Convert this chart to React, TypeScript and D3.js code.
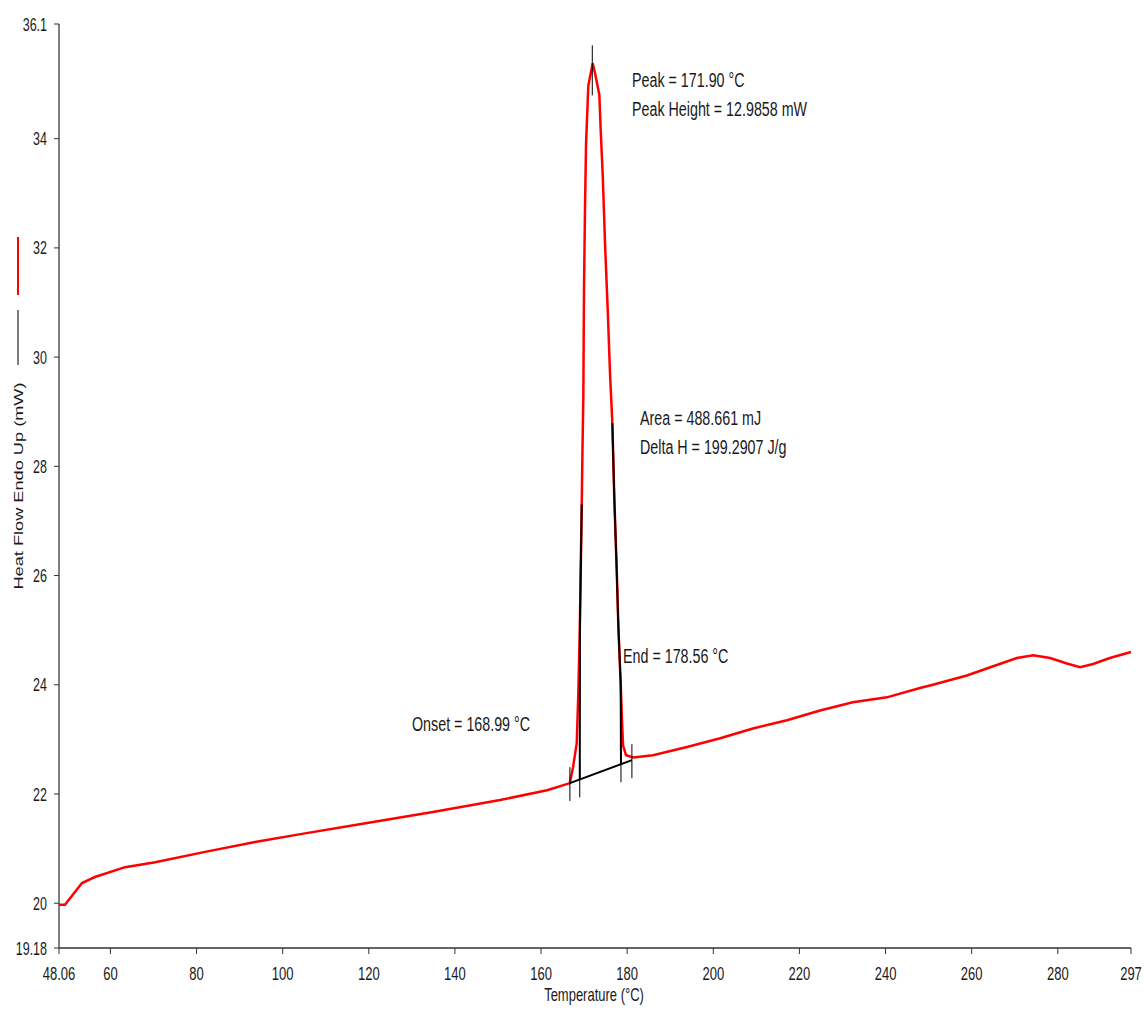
import React from 'react';
import * as d3 from 'd3';

// DSC scan, heat flow vs temperature
const temps = [48.06, 49.45, 53.4, 56.4, 63.4, 70.4, 82, 93.6, 104.5, 119.6, 134.9, 150.5, 161.4, 166.7, 167.43, 168.29, 168.66, 169.05, 169.45, 169.59, 169.82, 169.98, 170.21, 170.45, 170.98, 172.0, 172.54, 173.54, 173.86, 174.33, 174.86, 175.49, 176.02, 176.56, 177.02, 177.58, 177.95, 178.5, 178.8, 179.04, 179.73, 181.4, 186, 193.9, 201.6, 209.2, 217.1, 224.8, 232.4, 240.3, 248, 251, 258.9, 265, 270.5, 274.3, 278.2, 282.1, 285.2, 288.2, 292.1, 297];
const heatFlow = [19.97, 19.97, 20.37, 20.48, 20.66, 20.75, 20.94, 21.12, 21.27, 21.47, 21.67, 21.89, 22.07, 22.2, 22.49, 22.93, 23.85, 25.24, 27.3, 28.13, 29.28, 31.26, 32.74, 33.9, 34.97, 35.38, 35.2, 34.8, 34.14, 33.32, 32.08, 30.85, 29.7, 28.79, 27.4, 26.08, 25.08, 24.01, 23.35, 22.89, 22.71, 22.67, 22.71, 22.86, 23.02, 23.2, 23.35, 23.53, 23.68, 23.77, 23.94, 24.0, 24.17, 24.34, 24.49, 24.54, 24.49, 24.39, 24.32, 24.38, 24.49, 24.6];

const xTicks = [48.06, 60, 80, 100, 120, 140, 160, 180, 200, 220, 240, 260, 280, 297];
const yTicks = [19.18, 20, 22, 24, 26, 28, 30, 32, 34, 36.1];

// peak integration annotation
const baseStart: [number, number] = [166.7, 22.2];
const baseEnd: [number, number] = [181.1, 22.62];
const markerTemps = [166.7, 168.99, 178.56, 181.1];
const peakTemp = 171.9;
const peakValue = 35.38;
const leftEdge: [number, number][] = [[168.99, 22.27], [169.05, 25.24], [169.45, 27.3]];
const rightEdge: [number, number][] = [[176.56, 28.79], [177.02, 27.4], [177.58, 26.08], [177.95, 25.08], [178.5, 24.01], [178.56, 22.55]];

const width = 1144;
const height = 1010;
const font = 'Arial, "Liberation Sans", sans-serif';
const stretch = 1.4; // the original screenshot is squashed horizontally

// text drawn taller than wide, like the source image
const Tall = ({ x, y, size = 13, anchor = 'start', children }: any) => (
  <text
    transform={`translate(${x},${y}) scale(1,${stretch})`}
    textAnchor={anchor}
    fontSize={size}
    fill="#1a1a1a"
  >
    {children}
  </text>
);

const App = () => {
  const x = d3.scaleLinear().domain([48.06, 297]).range([59, 1131]);
  const y = d3.scaleLinear().domain([19.18, 36.1]).range([948, 24]);

  const line = d3.line<[number, number]>()
    .x((d) => x(d[0]))
    .y((d) => y(d[1]));

  const curve: [number, number][] = temps.map((t, i) => [t, heatFlow[i]]);
  const baseAt = (t: number) =>
    baseStart[1] + ((t - baseStart[0]) / (baseEnd[0] - baseStart[0])) * (baseEnd[1] - baseStart[1]);

  return (
    <svg width={width} height={height} style={{ position: 'absolute', left: 0, top: 0, background: '#fff' }} fontFamily={font}>
      {/* legend strokes */}
      <line x1={18} x2={18} y1={237} y2={295} stroke="#ff0000" strokeWidth={2} />
      <line x1={18} x2={18} y1={310} y2={365} stroke="#222" strokeWidth={1.2} />
      <text transform={`translate(23,486) scale(1,${stretch}) rotate(-90)`} textAnchor="middle" fontSize={13} fill="#1a1a1a">
        Heat Flow Endo Up (mW)
      </text>

      {/* axes */}
      <line x1={59} x2={59} y1={y(36.1)} y2={948} stroke="#555" strokeWidth={1.5} />
      <line x1={59} x2={1131} y1={948} y2={948} stroke="#333" strokeWidth={1.5} />
      {yTicks.map((v) => (
        <g key={v}>
          <line x1={54} x2={59} y1={y(v)} y2={y(v)} stroke="#333" />
          <Tall x={47} y={y(v) + 6.5} size={12.5} anchor="end">{v}</Tall>
        </g>
      ))}
      {xTicks.map((t) => (
        <g key={t}>
          <line x1={x(t)} x2={x(t)} y1={948} y2={954} stroke="#333" />
          <Tall x={x(t)} y={980} size={13} anchor="middle">{t}</Tall>
        </g>
      ))}
      <Tall x={594} y={1001} size={13} anchor="middle">Temperature (°C)</Tall>

      {/* data */}
      <path d={line(curve) ?? ''} fill="none" stroke="#ff0000" strokeWidth={2.5} />

      {/* integration marks */}
      <path d={line([baseStart, baseEnd]) ?? ''} fill="none" stroke="#000" strokeWidth={2} />
      <path d={line(leftEdge) ?? ''} fill="none" stroke="#000" strokeWidth={2} />
      <path d={line(rightEdge) ?? ''} fill="none" stroke="#000" strokeWidth={2} />
      {markerTemps.map((t) => (
        <line key={t} x1={x(t)} x2={x(t)} y1={y(baseAt(t)) - 16} y2={y(baseAt(t)) + 18} stroke="#000" strokeWidth={1} />
      ))}
      <line x1={x(peakTemp)} x2={x(peakTemp)} y1={y(peakValue) - 18} y2={y(peakValue) + 32} stroke="#000" strokeWidth={1} />

      <Tall x={632} y={87} size={14.3}>Peak = 171.90 °C</Tall>
      <Tall x={632} y={116} size={14.3}>Peak Height = 12.9858 mW</Tall>
      <Tall x={640} y={425} size={14.3}>Area = 488.661 mJ</Tall>
      <Tall x={640} y={454} size={14.3}>Delta H = 199.2907 J/g</Tall>
      <Tall x={623} y={663} size={14.3}>End = 178.56 °C</Tall>
      <Tall x={412} y={731} size={14.3}>Onset = 168.99 °C</Tall>
    </svg>
  );
};

export default App;
